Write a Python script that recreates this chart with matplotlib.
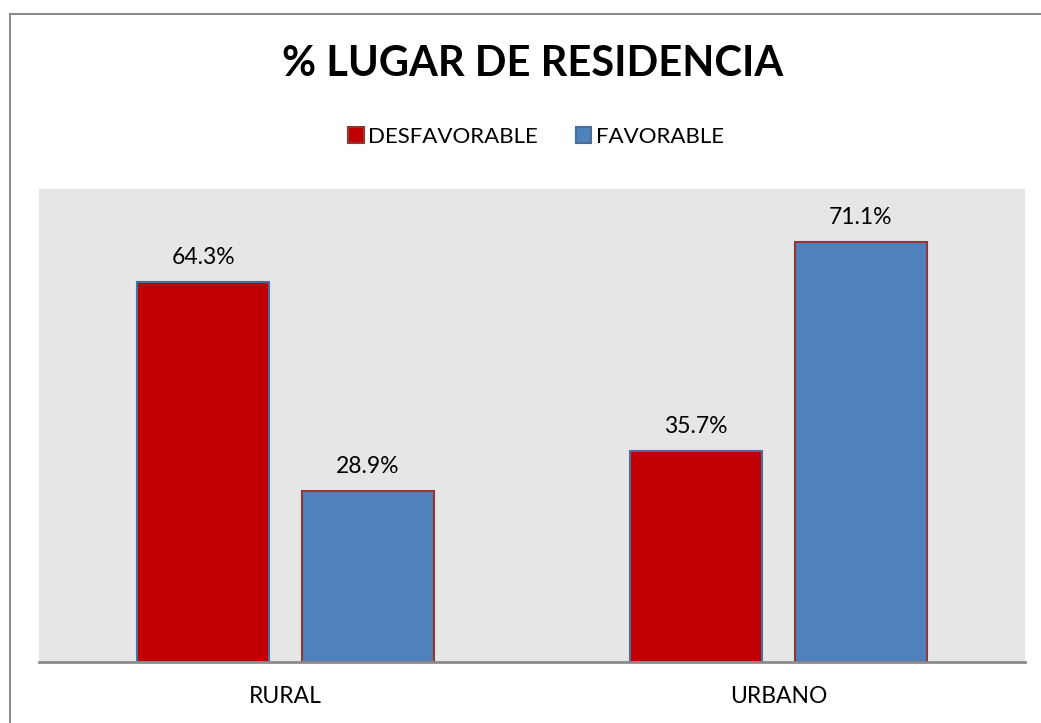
import numpy as np
import matplotlib
matplotlib.use('Agg')
from matplotlib import pyplot as plt
from matplotlib.patches import Patch
from matplotlib.lines import Line2D

categorias = ['RURAL', 'URBANO']
series = ['DESFAVORABLE', 'FAVORABLE']
desfavorable = [64.3, 35.7]
favorable = [28.9, 71.1]

colores = ['#C00000', '#4F81BD']
bordes = ['#4A6E9C', '#943634']

plt.rcParams['font.family'] = ['Lato', 'DejaVu Sans']

fig = plt.figure(figsize=(10.41, 7.23), dpi=100)
ax = fig.add_axes([39 / 1041, 61 / 723, 986 / 1041, 473 / 723])
ax.set_facecolor('#E6E6E6')

x = np.arange(len(categorias))
ancho = 0.268
desp = 0.167
valores = [desfavorable, favorable]
for i, vals in enumerate(valores):
    pos = x + (i * 2 - 1) * desp
    barras = ax.bar(pos, vals, ancho, color=colores[i], edgecolor=bordes[i],
                    linewidth=1.5, zorder=2)
    for b, v in zip(barras, vals):
        ax.annotate('%.1f%%' % v, (b.get_x() + b.get_width() / 2, v),
                    xytext=(0, 10), textcoords='offset points',
                    ha='center', va='bottom', fontsize=16.5)

ax.set_xlim(-0.5, 1.5)
ax.set_ylim(0, 80)
ax.set_yticks([])
ax.set_xticks(x)
ax.set_xticklabels(categorias, fontsize=16.5)
ax.tick_params(axis='x', length=0, pad=17)
for s in ['top', 'left', 'right']:
    ax.spines[s].set_visible(False)
ax.spines['bottom'].set_color('#8C8C8C')
ax.spines['bottom'].set_linewidth(2)
ax.spines['bottom'].set_zorder(3)

fig.text(533 / 1041, 1 - 64 / 723, '% LUGAR DE RESIDENCIA', ha='center',
         va='center', fontsize=30, fontweight='bold')

handles = [Patch(facecolor=colores[i], edgecolor=bordes[::-1][i], linewidth=1.5,
                 label=series[i]) for i in range(2)]
fig.legend(handles=handles, loc='center', bbox_to_anchor=(536 / 1041, 1 - 137 / 723),
           ncol=2, frameon=False, fontsize=16, handlelength=0.7,
           handleheight=0.7, handletextpad=0.2, columnspacing=1.7)

# marco exterior del grafico
fig.add_artist(Line2D([9.5 / 1041, 9.5 / 1041], [0, 1 - 13.5 / 723],
                      color='#8C8C8C', linewidth=1.5))
fig.add_artist(Line2D([9.5 / 1041, 1], [1 - 13.5 / 723, 1 - 13.5 / 723],
                      color='#8C8C8C', linewidth=1.5))

fig.savefig('out.png', dpi=100)
